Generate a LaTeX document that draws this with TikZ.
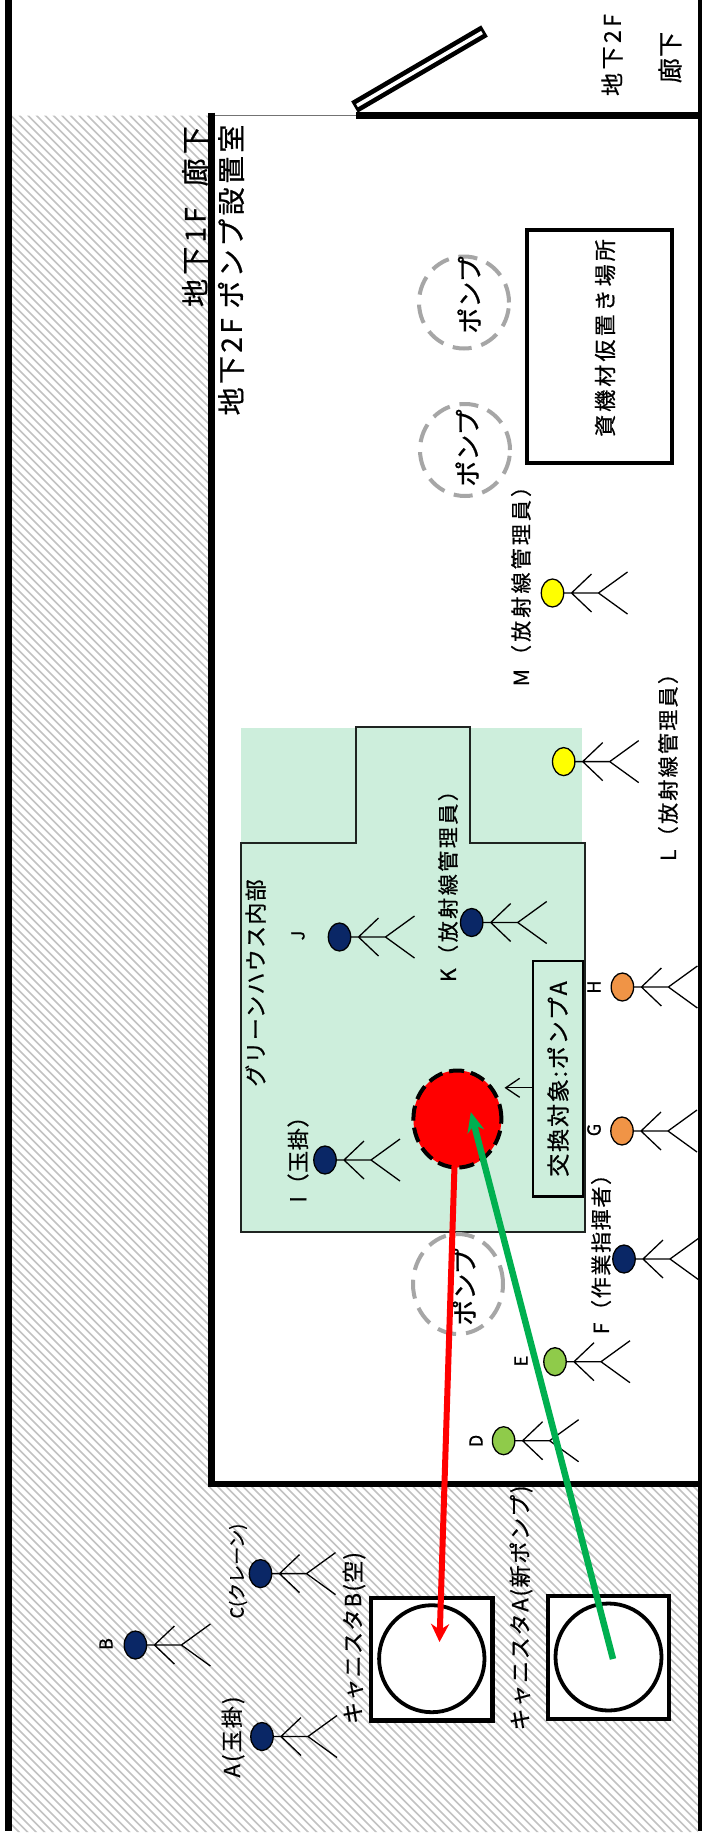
\documentclass[tikz,border=0pt]{standalone}
\usepackage{fontspec}
\usetikzlibrary{arrows.meta,shapes.geometric}
\newfontfamily\cjk{Noto Sans CJK JP}
\definecolor{hatchgray}{HTML}{C2C2C2}
\definecolor{roomgreen}{HTML}{CDEEDC}
\definecolor{pumpgray}{HTML}{A6A6A6}
\definecolor{navyhead}{HTML}{0A2766}
\definecolor{orangehead}{HTML}{F09446}
\definecolor{yellowhead}{HTML}{FFFF00}
\definecolor{greenhead}{HTML}{8FCB4A}
\definecolor{moveg}{HTML}{00B050}
\newcommand\sized[2]{\cjk\fontsize{#1}{#1}\addfontfeature{LetterSpace=#2,FakeBold=0.7}\selectfont}
\tikzset{
  x=1pt,y=-1pt,
  lab/.style={rotate=90,inner sep=0pt,anchor=center,text=black},
  wall/.style={draw=black,line width=6.2pt},
  pumpring/.style={ellipse,draw=pumpgray,line width=4pt,dash pattern=on 19pt off 10pt,inner sep=0pt,outer sep=0pt},
  canbox/.style={rectangle,draw=black,fill=white,line width=4.4pt,inner sep=0pt,outer sep=0pt},
  canring/.style={ellipse,draw=black,fill=white,line width=3.8pt,inner sep=0pt,outer sep=0pt},
  pics/person/.style={code={
    \draw[black,line width=1.3pt] (11,0) -- (46,0) (39,-19) -- (19,0) -- (39,19) (75,-21) -- (46,0) -- (75,21);
    \draw[black,line width=1.3pt,fill=#1] (0,0) ellipse [x radius=11.2,y radius=14];
  }}
}
\begin{document}
\begin{tikzpicture}
\useasboundingbox (0,0) rectangle (703,1834);
\fill[white] (0,0) rectangle (703,1834);
% hatching
\begin{scope}
\clip (12,115.5) -- (208.5,115.5) -- (208.5,1486) -- (698,1486) -- (698,1832) -- (12,1832) -- cycle;
\foreach \c in {-1830,-1821.5,...,590}{
  \draw[hatchgray,line width=1.6pt] (\c+90,90) -- (\c+1850,1850);
}
\end{scope}
% walls
\fill[black] (5,0) rectangle (12,1831);
\fill[black] (698,0) rectangle (702.3,1831);
\draw[black!55,line width=0.7pt] (214,115.5) -- (356,115.5);
\draw[wall] (356,115.5) -- (698,115.5);
\draw[wall] (211.5,112.5) -- (211.5,1484) -- (698,1484);
% door
\draw[black,line width=13pt] (354.5,107) -- (484.5,31);
\draw[white,line width=3.6pt] (357,105.6) -- (482,32.5);
% room
\fill[roomgreen] (241,728) rectangle (581.5,844);
\draw[black!85!roomgreen,fill=roomgreen,line width=1.9pt] (241,843.4) -- (355.6,843.4) -- (355.6,727) -- (469.6,727) -- (469.6,843.4) -- (584.6,843.4) -- (584.6,1232) -- (241,1232) -- cycle;
% pumps
\node[pumpring,minimum width=90pt,minimum height=92pt] (pumpone) at (464,302.5) {};
\node[pumpring,minimum width=90pt,minimum height=92pt] (pumptwo) at (465,450) {};
\node[pumpring,minimum width=90pt,minimum height=100pt] (pumpthree) at (458,1284) {};
\node[lab,font=\sized{26}{0}] (pumponet) at (469,295) {ポンプ};
\node[lab,font=\sized{26}{0}] (pumptwot) at (467,448) {ポンプ};
\node[lab,font=\sized{26}{0}] (pumpthreet) at (464,1287) {ポンプ};
% materials box
\node[rectangle,draw=black,line width=4pt,minimum width=145pt,minimum height=233pt,inner sep=0pt,outer sep=0pt] (materials) at (599.5,346.5) {};
\node[lab,font=\sized{22}{14}] (materialst) at (605,338) {資機材仮置き場所};
% red pump
\node[ellipse,fill=red,draw=black,line width=4pt,dash pattern=on 15pt off 7pt,minimum width=88pt,minimum height=97pt,inner sep=0pt,outer sep=0pt] (pumpA) at (457.4,1119) {};
% target box
\node[rectangle,draw=black,fill=roomgreen,line width=2.2pt,minimum width=50.3pt,minimum height=235.5pt,inner sep=0pt,outer sep=0pt] (target) at (557.9,1078.8) {};
\node[lab,font=\sized{23}{8}] (targett) at (558,1079) {交換対象:ポンプA};
\coordinate (targetout) at (532.7,1087.8);
\coordinate (targettip) at (504.5,1087.8);
\draw[black,line width=1.3pt,-{Straight Barb[length=14pt,width=19pt]}] (targetout) -- (targettip);
% canisters
\node[canbox,minimum width=121.4pt,minimum height=122.4pt] (boxB) at (431.7,1659.1) {};
\node[canring,minimum width=105.4pt,minimum height=107pt] (canB) at (431.8,1658.7) {};
\node[canbox,minimum width=121pt,minimum height=123pt] (boxA) at (608.5,1657.5) {};
\node[canring,minimum width=106pt,minimum height=107pt] (canA) at (608.5,1657) {};
% people
\pic at (552.5,593) {person=yellowhead};
\pic at (563.7,761.6) {person=yellowhead};
\pic at (339.5,937) {person=navyhead};
\pic at (471.7,922.5) {person=navyhead};
\begin{scope}
\clip (0,0) rectangle (698,1834);
\pic at (622.4,987) {person=orangehead};
\pic at (622,1131) {person=orangehead};
\pic at (624,1259) {person=navyhead};
\end{scope}
\pic at (325,1160) {person=navyhead};
\pic at (555,1361.7) {person=greenhead};
\pic at (503.6,1440.7) {person=greenhead};
\pic at (260.5,1573.6) {person=navyhead};
\pic at (135.4,1645) {person=navyhead};
\pic at (262,1736.5) {person=navyhead};
% arrows
\coordinate (redstart) at (455,1150);
\coordinate (redend) at (439.5,1642);
\draw[red,line width=6pt,-{Stealth[length=18pt,width=18pt]}] (redstart) -- (redend);
\coordinate (greenstart) at (613,1659);
\coordinate (greenend) at (470.8,1112);
\draw[moveg,line width=6.5pt,-{Stealth[length=20pt,width=17pt]}] (greenstart) -- (greenend);
% labels
\node[lab,font=\sized{23}{15}] (t1) at (612,55) {地下2F};
\node[lab,font=\sized{25}{5}] (t2) at (670,57.5) {廊下};
\node[lab,font=\sized{28}{15}] (t3) at (195,216.5) {地下1F\ \ 廊下};
\node[lab,font=\sized{28}{12}] (t4) at (231,270) {地下2F ポンプ設置室};
\node[lab,font=\sized{21}{15}] (t5) at (521,581) {M（放射線管理員）};
\node[lab,font=\sized{21}{11}] (t6) at (668,762) {L（放射線管理員）};
\node[lab,font=\sized{21}{12}] (t7) at (448,881) {K（放射線管理員）};
\node[lab,font=\sized{18}{0}] (t8) at (298,935.5) {J};
\node[lab,font=\sized{18}{0}] (t9) at (594,987) {H};
\node[lab,font=\sized{18}{0}] (t10) at (594,1130) {G};
\node[lab,font=\sized{22}{3}] (t11) at (298,1154) {I（玉掛）};
\node[lab,font=\sized{21}{8}] (t12) at (601,1249) {F（作業指揮者）};
\node[lab,font=\sized{18}{0}] (t13) at (521,1361) {E};
\node[lab,font=\sized{18}{0}] (t14) at (476,1441) {D};
\node[lab,font=\sized{18}{0}] (t15) at (238,1571) {C(クレーン)};
\node[lab,font=\sized{18}{0}] (t16) at (106,1644) {B};
\node[lab,font=\sized{22}{10}] (t17) at (233,1737) {A(玉掛)};
\node[lab,font=\sized{22}{6}] (t18) at (354,1638) {キャニスタB(空)};
\node[lab,font=\sized{22}{8}] (t19) at (521,1608) {キャニスタA(新ポンプ)};
\node[lab,font=\sized{22}{6}] (t20) at (255.6,983) {グリーンハウス内部};
\end{tikzpicture}
\end{document}
